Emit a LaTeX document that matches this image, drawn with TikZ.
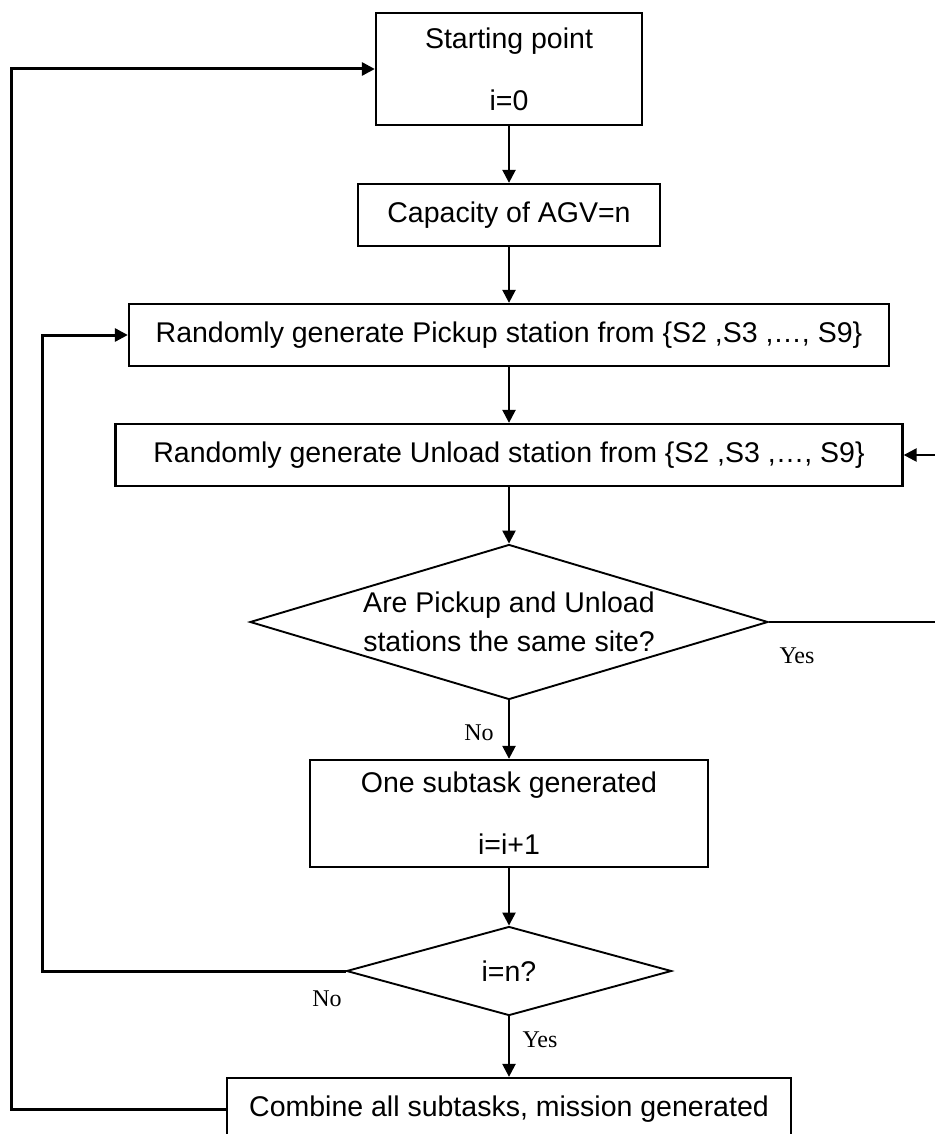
\documentclass[tikz,border=0pt]{standalone}
\usepackage{fontspec}
\setmainfont{Liberation Sans}
\newfontfamily\labelfont{Liberation Serif}
\usetikzlibrary{shapes.geometric,arrows.meta}
\begin{document}
\begin{tikzpicture}[x=1pt,y=-1pt,
  font=\fontsize{28.5}{34}\selectfont,
  box/.style={draw,line width=2.3pt,rectangle,inner sep=0pt,align=center},
  decision/.style={draw,line width=1.9pt,diamond,inner sep=0pt},
  flow/.style={line width=2.4pt,-{Triangle[length=13pt,width=13pt]}},
  loopline/.style={line width=3pt},
  tag/.style={font=\labelfont\fontsize{24}{28}\selectfont,inner sep=0pt}
]
\useasboundingbox (0,0) rectangle (934,1134);

% process boxes
\node[box,minimum width=266,minimum height=112] (start) at (509,69)
  {Starting point\\[28pt]i=0};
\node[box,minimum width=302,minimum height=62] (cap) at (509,215)
  {Capacity of AGV=n};
\node[box,minimum width=760,minimum height=62] (pick) at (509,335)
  {Randomly generate Pickup station from \{S2 ,S3 ,…, S9\}};
\node[box,minimum width=787,minimum height=62] (unl) at (509,455)
  {Randomly generate Unload station from \{S2 ,S3 ,…, S9\}};

% first decision
\node[decision,minimum width=518,minimum height=155] (same) at (509,622) {};
\node[align=center,inner sep=0pt] (sameq) at (same.center)
  {Are Pickup and Unload\\[5pt]stations the same site?};

\node[box,minimum width=398,minimum height=107] (sub) at (509,813.5)
  {One subtask generated\\[28pt]i=i+1};

% second decision
\node[decision,minimum width=325,minimum height=89] (chk) at (509,971) {};
\node[inner sep=0pt] (chkq) at (chk.center) {i=n?};

\node[box,minimum width=564,minimum height=62] (final) at (509,1109)
  {Combine all subtasks, mission generated};

% branch labels
\node[tag] (yes1) at (797,656) {Yes};
\node[tag] (no1) at (479,733) {No};
\node[tag] (no2) at (327,999) {No};
\node[tag] (yes2) at (540,1040) {Yes};

% return lanes
\coordinate (innerx) at (42,0);
\coordinate (outerx) at (11,0);
\coordinate (rightx) at (946,0);

% main flow
\draw[flow] (start.south) -- (cap.north);
\draw[flow] (cap.south) -- (pick.north);
\draw[flow] (pick.south) -- (unl.north);
\draw[flow] (unl.south) -- (same.north);
\draw[flow] (same.south) -- (sub.north);
\draw[flow] (sub.south) -- (chk.north);
\draw[flow] (chk.south) -- (final.north);

% loops
\draw[flow] (same.east) -- (same.east -| rightx) |- (unl.east);
\draw[flow,loopline] (chk.west) -- (chk.west -| innerx) |- (pick.west);
\draw[flow,loopline] (final.west) -- (final.west -| outerx) |- (start.west);
\end{tikzpicture}
\end{document}
